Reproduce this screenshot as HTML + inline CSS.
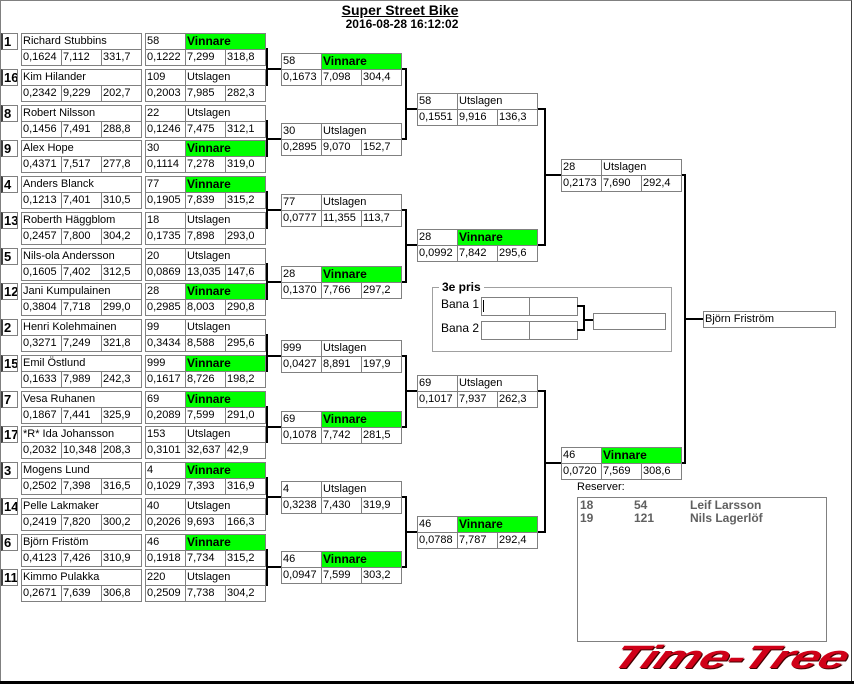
<!DOCTYPE html>
<html><head><meta charset="utf-8"><style>
html,body{margin:0;padding:0;background:#fff}
#p{position:relative;width:854px;height:684px;overflow:hidden;font-family:"Liberation Sans",Arial,sans-serif;font-size:11px;color:#000;background:#fff}
.c{position:absolute;box-sizing:border-box;border:1px solid #808080;line-height:15px;padding-left:1px;white-space:nowrap;overflow:hidden;background:#fff}
.w{background:#00ff00;font-weight:bold;font-size:12px}
.s{font-weight:bold;font-size:13px;border-left:2px solid #404040}
.l{position:absolute;background:#000}
.t{position:absolute;white-space:nowrap}
</style></head><body><div id="p">
<div style="position:absolute;left:0;top:0;width:852px;height:681px;border-left:1px solid #808080;border-top:1px solid #808080;border-right:1px solid #404040;box-sizing:border-box"></div>
<div style="position:absolute;left:0;top:681px;width:854px;height:3px;background:#000"></div>
<div class="t" style="left:0;width:800px;top:2px;text-align:center;font-weight:bold;font-size:14px;text-decoration:underline">Super Street Bike</div>
<div class="t" style="left:0;width:804px;top:17px;text-align:center;font-weight:bold;font-size:12px">2016-08-28 16:12:02</div>
<div style="position:absolute;left:432px;top:287px;width:240px;height:65px;box-sizing:border-box;border:1px solid #a0a0a0"></div>
<div class="t" style="left:439px;top:280px;background:#fff;padding:0 3px;font-weight:bold;font-size:12px">3e pris</div>
<div class="t" style="left:441px;top:297px;font-size:12px">Bana 1</div>
<div class="t" style="left:441px;top:321px;font-size:12px">Bana 2</div>
<div class="t" style="left:577px;top:481px">Reserver:</div>
<div style="position:absolute;left:577px;top:497px;width:250px;height:145px;box-sizing:border-box;border:1px solid #808080"></div>
<div class="t" style="left:580px;top:499px;font-weight:bold;font-size:12px;color:#606060;line-height:13px">18<br>19</div>
<div class="t" style="left:634px;top:499px;font-weight:bold;font-size:12px;color:#606060;line-height:13px">54<br>121</div>
<div class="t" style="left:690px;top:499px;font-weight:bold;font-size:12px;color:#606060;line-height:13px">Leif Larsson<br>Nils Lagerlöf</div>
<div class="t" style="left:614px;top:638px;font-size:38px;line-height:40px;font-weight:900;font-style:italic;color:#d00018;letter-spacing:-1px;transform-origin:0 50%;transform:skewX(-25deg) scale(1.36,0.85);text-shadow:1px 1px 0 #400">Time-Tree</div>
</div>
<script>
var P=document.getElementById('p');
function c(x,y,w,h,t,cls){var d=document.createElement('div');d.className='c '+(cls||'');d.style.cssText='left:'+x+'px;top:'+y+'px;width:'+w+'px;height:'+h+'px';d.textContent=t;P.appendChild(d);}
function L(x,y,w,h){var d=document.createElement('div');d.className='l';d.style.cssText='left:'+x+'px;top:'+y+'px;width:'+w+'px;height:'+h+'px';P.appendChild(d);}
function box(x,y,a){c(x,y,41,17,a[0]);c(x+40,y,81,17,a[1],a[1]=='Vinnare'?'w':'');c(x,y+16,41,17,a[2]);c(x+40,y+16,41,17,a[3]);c(x+80,y+16,41,17,a[4]);}
var pl=[
['1','Richard Stubbins','0,1624','7,112','331,7','58','Vinnare','0,1222','7,299','318,8'],
['16','Kim Hilander','0,2342','9,229','202,7','109','Utslagen','0,2003','7,985','282,3'],
['8','Robert Nilsson','0,1456','7,491','288,8','22','Utslagen','0,1246','7,475','312,1'],
['9','Alex Hope','0,4371','7,517','277,8','30','Vinnare','0,1114','7,278','319,0'],
['4','Anders Blanck','0,1213','7,401','310,5','77','Vinnare','0,1905','7,839','315,2'],
['13','Roberth Häggblom','0,2457','7,800','304,2','18','Utslagen','0,1735','7,898','293,0'],
['5','Nils-ola Andersson','0,1605','7,402','312,5','20','Utslagen','0,0869','13,035','147,6'],
['12','Jani Kumpulainen','0,3804','7,718','299,0','28','Vinnare','0,2985','8,003','290,8'],
['2','Henri Kolehmainen','0,3271','7,249','321,8','99','Utslagen','0,3434','8,588','295,6'],
['15','Emil Östlund','0,1633','7,989','242,3','999','Vinnare','0,1617','8,726','198,2'],
['7','Vesa Ruhanen','0,1867','7,441','325,9','69','Vinnare','0,2089','7,599','291,0'],
['17','*R* Ida Johansson','0,2032','10,348','208,3','153','Utslagen','0,3101','32,637','42,9'],
['3','Mogens Lund','0,2502','7,398','316,5','4','Vinnare','0,1029','7,393','316,9'],
['14','Pelle Lakmaker','0,2419','7,820','300,2','40','Utslagen','0,2026','9,693','166,3'],
['6','Björn Fristöm','0,4123','7,426','310,9','46','Vinnare','0,1918','7,734','315,2'],
['11','Kimmo Pulakka','0,2671','7,639','306,8','220','Utslagen','0,2509','7,738','304,2']];
var ys=[];
pl.forEach(function(p,i){var y=Math.round(33+35.75*i);ys.push(y);
c(1,y,17,17,p[0],'s');c(21,y,121,17,p[1]);c(21,y+16,41,17,p[2]);c(61,y+16,41,17,p[3]);c(101,y+16,41,17,p[4]);
box(145,y,p.slice(5));});
var r2=[['58','Vinnare','0,1673','7,098','304,4'],['30','Utslagen','0,2895','9,070','152,7'],['77','Utslagen','0,0777','11,355','113,7'],['28','Vinnare','0,1370','7,766','297,2'],['999','Utslagen','0,0427','8,891','197,9'],['69','Vinnare','0,1078','7,742','281,5'],['4','Utslagen','0,3238','7,430','319,9'],['46','Vinnare','0,0947','7,599','303,2']];
var r2y=[53,123,194,266,340,411,481,551];
var r3=[['58','Utslagen','0,1551','9,916','136,3'],['28','Vinnare','0,0992','7,842','295,6'],['69','Utslagen','0,1017','7,937','262,3'],['46','Vinnare','0,0788','7,787','292,4']];
var r3y=[93,229,375,516];
var r4=[['28','Utslagen','0,2173','7,690','292,4'],['46','Vinnare','0,0720','7,569','308,6']];
var r4y=[159,447];
function br(x1,ya,yb,xv,x2,ym){L(x1,ya-1,xv-x1+2,2);L(x1,yb-1,xv-x1+2,2);L(xv,ya-1,2,yb-ya+2);L(xv,ym-1,x2-xv,2);}
for(var k=0;k<8;k++){box(281,r2y[k],r2[k]);br(266,ys[2*k]+16,ys[2*k+1]+16,266,281,r2y[k]+16);}
for(var k=0;k<4;k++){box(417,r3y[k],r3[k]);br(402,r2y[2*k]+16,r2y[2*k+1]+16,405,417,r3y[k]+16);}
for(var k=0;k<2;k++){box(561,r4y[k],r4[k]);br(538,r3y[2*k]+16,r3y[2*k+1]+16,544,561,r4y[k]+16);}
br(682,r4y[0]+16,r4y[1]+16,684,703,319);
c(703,311,133,17,'Björn Friström');
c(481,297,49,19,'');c(529,297,49,19,'');c(481,321,49,19,'');c(529,321,49,19,'');
br(577,306,330,583,593,320);
c(593,313,73,17,'');
L(483,300,1,12);
</script>
</body></html>
